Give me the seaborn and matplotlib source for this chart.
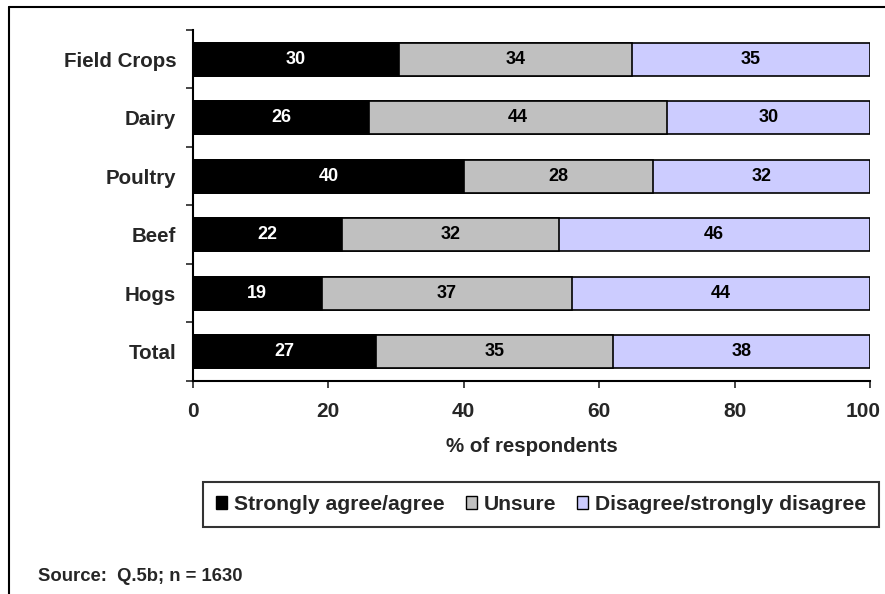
import numpy as np
import pandas as pd
import matplotlib.pyplot as plt
import seaborn as sns
from matplotlib.patches import Patch
from matplotlib.lines import Line2D
from matplotlib.transforms import ScaledTranslation

# Chart data
groups = ["Field Crops", "Dairy", "Poultry", "Beef", "Hogs", "Total"]
agree = [30.4, 26, 40, 22, 19, 27]
unsure = [34.4, 44, 28, 32, 37, 35]
disagree = [35.2, 30, 32, 46, 44, 38]
series_names = ["Strongly agree/agree", "Unsure", "Disagree/strongly disagree"]
colors = ["#000000", "#C0C0C0", "#CCCCFF"]
xticks = [0, 20, 40, 60, 80, 100]

df = pd.DataFrame({"Group": groups, "agree": agree, "unsure": unsure, "disagree": disagree})
df["c1"] = df["agree"]
df["c2"] = df["agree"] + df["unsure"]
df["c3"] = df["c2"] + df["disagree"]

sns.set_style("white")
plt.rcParams["font.family"] = ["Liberation Sans", "DejaVu Sans"]
plt.rcParams["font.weight"] = "bold"

fig = plt.figure(figsize=(8.85, 5.94), dpi=100)
ax = fig.add_axes([0.218, 0.3586, 0.765, 0.591])

# stacked bars: draw the cumulative totals back to front
for col, color in zip(["c3", "c2", "c1"], colors[::-1]):
    sns.barplot(data=df, y="Group", x=col, orient="h", color=color,
                edgecolor="black", linewidth=1.2, width=0.56, ax=ax,
                saturation=1)

# value labels in the middle of each segment
for i, row in df.iterrows():
    starts = [0, row["c1"], row["c2"]]
    vals = [row["agree"], row["unsure"], row["disagree"]]
    for j, (s, v) in enumerate(zip(starts, vals)):
        ax.text(s + v / 2, i, f"{round(v):d}", ha="center", va="center",
                fontsize=13, fontweight="bold",
                color="white" if j == 0 else "black")

ax.set_xlim(0, 100)
ax.set_ylim(len(groups) - 0.5, -0.5)
ax.set_xticks(xticks)
ax.set_xticklabels([str(t) for t in xticks], fontsize=15, fontweight="bold")
ax.set_yticks(range(len(groups)))
ax.set_yticklabels(groups, fontsize=14.8, fontweight="bold")
ax.set_yticks(np.arange(-0.5, len(groups), 1), minor=True)
ax.tick_params(axis="y", which="major", length=0, pad=12)
ax.tick_params(axis="y", which="minor", length=5, width=1.2, direction="out", left=True)
ax.tick_params(axis="x", length=5, width=1.2, direction="out", bottom=True, pad=10)
# keep the last label ("100") inside the picture
last = ax.xaxis.get_major_ticks()[-1].label1
last.set_transform(last.get_transform() + ScaledTranslation(-7 / 100, 0, fig.dpi_scale_trans))
ax.set_xlabel("% of respondents", fontsize=14.8, fontweight="bold", labelpad=12)
ax.set_ylabel("")
for side in ["top", "right"]:
    ax.spines[side].set_visible(False)
for side in ["left", "bottom"]:
    ax.spines[side].set_color("black")
    ax.spines[side].set_linewidth(1.5)

handles = [Patch(facecolor=c, edgecolor="black", linewidth=1) for c in colors]
leg = fig.legend(handles, series_names, loc="center", ncol=3,
                 bbox_to_anchor=(0.6113, 0.1507),
                 prop={"size": 15.2, "weight": "bold"}, handlelength=0.52,
                 handleheight=0.52, handletextpad=0.33, columnspacing=1.0,
                 borderpad=0.6, fancybox=False, borderaxespad=0)
leg.get_frame().set_edgecolor("black")
leg.get_frame().set_linewidth(1.5)

fig.text(0.043, 0.030, "Source:  Q.5b; n = 1630", fontsize=13.3, fontweight="bold",
         ha="left", va="center")

# outer frame lines (top and left)
fig.add_artist(Line2D([0.0102, 1.0], [0.988, 0.988], color="black", linewidth=1.5,
                      transform=fig.transFigure))
fig.add_artist(Line2D([0.0102, 0.0102], [0.0, 0.988], color="black", linewidth=1.5,
                      transform=fig.transFigure))

fig.savefig("out.png", dpi=100)
